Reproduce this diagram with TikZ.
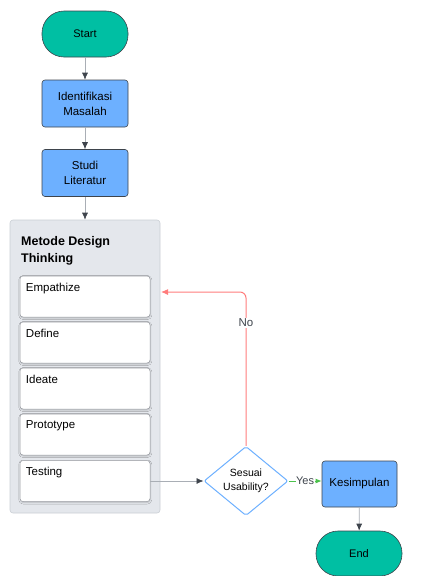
\documentclass[tikz,border=0pt]{standalone}
\usepackage{fontspec}
\setmainfont{Liberation Sans}
\usetikzlibrary{positioning, shapes.geometric, arrows.meta, shadows.blur}
\definecolor{flowTeal}{HTML}{00BFA3}
\definecolor{flowBlue}{HTML}{6DB0FF}
\definecolor{flowLine}{HTML}{3E444C}
\definecolor{flowGrey}{HTML}{A9AEB5}
\definecolor{panelFill}{HTML}{E4E7EC}
\definecolor{panelLine}{HTML}{C9CED5}
\definecolor{noRed}{HTML}{FF7C7C}
\definecolor{yesGreen}{HTML}{4CC24C}

\begin{document}
\begin{tikzpicture}[x=1pt, y=-1pt,
    terminal/.style={draw=flowLine, line width=0.6pt, rectangle, rounded corners=22pt, fill=flowTeal, align=center, font=\fontsize{11}{13}\selectfont, minimum width=86pt, minimum height=46pt},
    process/.style={draw=flowLine, line width=0.6pt, rectangle, rounded corners=3pt, fill=flowBlue, align=center, font=\fontsize{11.5}{15}\selectfont, minimum width=86pt, minimum height=47pt},
    panel/.style={draw=panelLine, line width=0.6pt, rectangle, rounded corners=3pt, fill=panelFill, minimum width=150pt, minimum height=293pt},
    stepBox/.style={draw=panelLine!75!black, line width=0.5pt, rectangle, rounded corners=3pt, fill=white, minimum width=130pt, minimum height=41pt, blur shadow={shadow blur steps=4, shadow blur radius=1.5pt, shadow opacity=20, shadow xshift=0.3pt, shadow yshift=-1pt}},
    stepText/.style={anchor=north west, font=\fontsize{11.5}{14}\selectfont, inner sep=0pt},
    decision/.style={draw=flowBlue, line width=1pt, diamond, fill=white, align=center, font=\fontsize{10.5}{14}\selectfont, minimum width=84pt, minimum height=68pt, inner sep=0pt, rounded corners=2pt},
    flowArrow/.style={draw=flowGrey, line width=0.7pt, -{Latex[length=7pt, width=6pt, color=flowLine]}},
    noArrow/.style={draw=noRed, line width=1pt, -{Latex[length=7pt, width=6pt]}},
    yesArrow/.style={draw=yesGreen, line width=1pt, -{Latex[length=6pt, width=5pt]}},
    edgeLabel/.style={fill=white, inner sep=1pt, font=\fontsize{11.5}{14}\selectfont, text=flowLine},
]
\useasboundingbox (0,0) rectangle (426,576);

% main column
\node[terminal] (start) at (85, 34) {Start};
\node[process] (identifikasi) at (85, 103.5) {Identifikasi\\Masalah};
\node[process] (studi) at (85, 173) {Studi\\Literatur};

% design thinking panel
\node[panel] (metode) at (85, 366.5) {};
\node[anchor=north west, align=left, inner sep=0pt, font=\fontsize{12.5}{17}\selectfont\bfseries] (metodeTitle) at (21, 236) {Metode Design\\Thinking};
\node[stepBox] (empathize) at (85, 296.5) {};
\node[stepBox] (define)    at (85, 342.5) {};
\node[stepBox] (ideate)    at (85, 388.5) {};
\node[stepBox] (prototype) at (85, 434.5) {};
\node[stepBox] (testing)   at (85, 481) {};
\node[stepText] at ([xshift=6pt, yshift=-7pt]empathize.north west) {Empathize};
\node[stepText] at ([xshift=6pt, yshift=-7pt]define.north west) {Define};
\node[stepText] at ([xshift=6pt, yshift=-7pt]ideate.north west) {Ideate};
\node[stepText] at ([xshift=6pt, yshift=-7pt]prototype.north west) {Prototype};
\node[stepText] at ([xshift=6pt, yshift=-7pt]testing.north west) {Testing};

% decision and end
\node[decision] (usability) at (246, 481) {Sesuai\\Usability?};
\node[process, minimum width=75pt, minimum height=46pt] (kesimpulan) at (359.5, 484) {Kesimpulan};
\node[terminal, minimum height=45pt] (end) at (359, 553.5) {End};
\coordinate (noEnd) at (161, 292);

\draw[flowArrow] (start) -- (identifikasi);
\draw[flowArrow] (identifikasi) -- (studi);
\draw[flowArrow] (studi) -- (metode);
\draw[flowArrow] (testing.east) -- (usability.west);
\draw[noArrow, rounded corners=6pt] (usability.north) |- node[edgeLabel, pos=0.4] {No} (noEnd);
\draw[yesArrow] (usability.east) -- node[edgeLabel, inner sep=0.5pt, font=\fontsize{11}{13}\selectfont] {Yes} (usability.east -| kesimpulan.west);
\draw[flowArrow] (kesimpulan) -- (end);
\end{tikzpicture}
\end{document}
